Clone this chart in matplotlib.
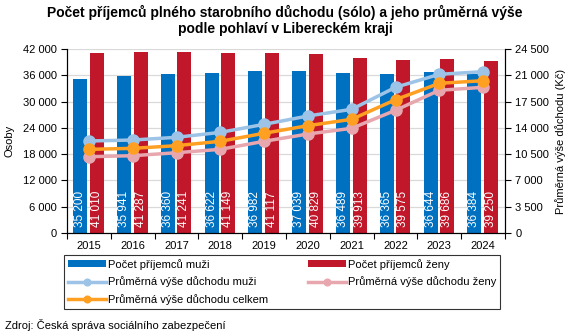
import numpy as np
import matplotlib.pyplot as plt
from matplotlib.ticker import FuncFormatter

plt.rcParams['font.family'] = ['Liberation Sans', 'DejaVu Sans']

roky = ['2015', '2016', '2017', '2018', '2019', '2020', '2021', '2022', '2023', '2024']
prijemci_muzi = [35200, 35941, 36360, 36622, 36982, 37039, 36489, 36365, 36644, 36384]
prijemci_zeny = [41010, 41287, 41241, 41149, 41117, 40829, 39913, 39575, 39686, 39250]
vyse_muzi = [12250, 12380, 12740, 13400, 14470, 15580, 16470, 19400, 21130, 21480]
vyse_zeny = [10160, 10290, 10690, 11140, 12210, 13180, 13940, 16340, 19000, 19400]
vyse_celkem = [11140, 11270, 11630, 12210, 13280, 14290, 15140, 17750, 19930, 20280]

c_muzi = '#0070C0'
c_zeny = '#C0182A'
c_vmuzi = '#9DC3E6'
c_vzeny = '#E8A7AE'
c_vcelkem = '#FFA023'

def tis(v, pos=None):
    return '{:,}'.format(int(v)).replace(',', ' ')

fig = plt.figure(figsize=(5.7, 3.36), dpi=100)
ax = fig.add_axes([67/570, 1-233/336, (505-67)/570, (233-49)/336])
ax2 = ax.twinx()

x = np.arange(len(roky))
w = 0.32
b1 = ax.bar(x - 0.2, prijemci_muzi, w, color=c_muzi, zorder=2)
b2 = ax.bar(x + 0.18, prijemci_zeny, w, color=c_zeny, zorder=2)
for xi, v in zip(x, prijemci_muzi):
    ax.text(xi - 0.2, 1300, tis(v), rotation=90, color='white', ha='center', va='bottom', fontsize=8.5, zorder=3)
for xi, v in zip(x, prijemci_zeny):
    ax.text(xi + 0.18, 1300, tis(v), rotation=90, color='white', ha='center', va='bottom', fontsize=8.5, zorder=3)

ax.set_ylim(0, 42000)
ax.set_yticks(np.arange(0, 42001, 6000))
ax.yaxis.set_major_formatter(FuncFormatter(tis))
ax.set_xlim(-0.5, len(roky) - 0.5)
ax.set_xticks(x)
ax.set_xticklabels(roky)
ax.set_xticks(np.arange(-0.5, len(roky), 1), minor=True)
ax.tick_params(axis='x', which='major', length=0, pad=6, labelsize=8)
ax.tick_params(axis='x', which='minor', length=4, width=0.8)
ax.tick_params(axis='y', labelsize=8, length=4, width=0.8)
ax.grid(axis='y', color='#D9D9D9', linewidth=0.9, zorder=0)
ax.set_axisbelow(True)
ax.set_ylabel('Osoby', fontsize=8, labelpad=6)
ax.spines['top'].set_visible(False)

l1, = ax2.plot(x, vyse_muzi, color=c_vmuzi, lw=2.5, marker='o', ms=8, zorder=4)
l2, = ax2.plot(x, vyse_zeny, color=c_vzeny, lw=2.5, marker='o', ms=8, zorder=4)
l3, = ax2.plot(x, vyse_celkem, color=c_vcelkem, lw=2.5, marker='o', ms=8, zorder=5)
ax2.set_ylim(0, 24500)
ax2.set_yticks(np.arange(0, 24501, 3500))
ax2.yaxis.set_major_formatter(FuncFormatter(tis))
ax2.tick_params(axis='y', labelsize=8, length=4, width=0.8)
ax2.set_ylabel('Průměrná výše důchodu (Kč)', fontsize=8, labelpad=4)
ax2.spines['top'].set_visible(False)

fig.suptitle('Počet příjemců plného starobního důchodu (sólo) a jeho průměrná výše\npodle pohlaví v Libereckém kraji',
             fontsize=10, fontweight='bold', y=0.985, linespacing=1.15)

leg = fig.legend([b1, l1, l3, b2, l2],
                 ['Počet příjemců muži', 'Průměrná výše důchodu muži', 'Průměrná výše důchodu celkem',
                  'Počet příjemců ženy', 'Průměrná výše důchodu ženy'],
                 ncol=2, loc='upper left', bbox_to_anchor=(64/570, 1-255/336), fontsize=8,
                 frameon=True, fancybox=False, edgecolor='black', handlelength=3.4,
                 handleheight=0.6, labelspacing=0.6, columnspacing=3.6, borderpad=0.35,
                 handletextpad=0.2, markerscale=0.6, borderaxespad=0)
leg.get_frame().set_linewidth(0.8)

fig.text(5/570, 1-325/336, 'Zdroj: Česká správa sociálního zabezpečení', fontsize=8, va='center')

fig.savefig('out.png', dpi=100)
